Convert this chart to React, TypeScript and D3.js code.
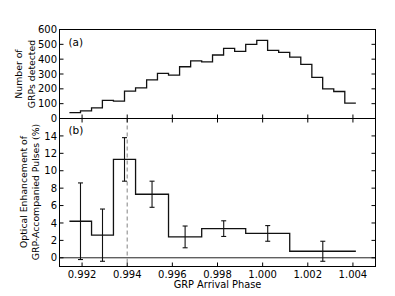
import React from "react";
import * as d3 from "d3";

// bin edges of the GRP histogram (phase)
const binEdges = [
  0.99144, 0.99193, 0.99242, 0.9929, 0.99339, 0.99388, 0.99437, 0.99486, 0.99534,
  0.99583, 0.99632, 0.99681, 0.9973, 0.99778, 0.99827, 0.99876, 0.99925, 0.99974,
  1.00022, 1.00071, 1.0012, 1.00169, 1.00218, 1.00266, 1.00315, 1.00364, 1.00413,
];
const grpCounts = [
  40, 51, 72, 122, 117, 185, 207, 261, 304, 293, 349, 389, 382, 428, 473, 453, 500,
  527, 459, 446, 414, 365, 277, 200, 182, 103,
];

// coarser bins used for the optical enhancement (indices into binEdges)
const enhEdgeIdx = [0, 2, 4, 6, 9, 12, 16, 20, 26];
const enhValues = [4.2, 2.6, 11.3, 7.3, 2.4, 3.35, 2.8, 0.75];
const enhErrors = [4.4, 3.0, 2.5, 1.5, 1.25, 0.9, 0.9, 1.15];

const xTicks = [0.992, 0.994, 0.996, 0.998, 1.0, 1.002, 1.004];
const topTicks = [0, 100, 200, 300, 400, 500, 600];
const botTicks = [0, 2, 4, 6, 8, 10, 12, 14];
const peakPhase = 0.994;

const W = 395;
const H = 296;
const left = 59.5;
const right = 375.5;
const top = 29.5;
const mid = 118.5;
const bottom = 266.5;
const font = "DejaVu Sans";
const tick = 4;
const tickFont = 10;
const labelFont = 9.3;

export default function App() {
  const x = d3.scaleLinear().domain([0.991, 1.005]).range([left, right]);
  const yTop = d3.scaleLinear().domain([0, 600]).range([mid, top]);
  const yBot = d3.scaleLinear().domain([-1, 16]).range([bottom, mid]);

  const topPts: [number, number][] = grpCounts.map((v, i) => [binEdges[i], v]);
  topPts.push([binEdges[binEdges.length - 1], grpCounts[grpCounts.length - 1]]);
  const topLine = d3
    .line<[number, number]>()
    .x((d) => x(d[0]))
    .y((d) => yTop(d[1]))
    .curve(d3.curveStepAfter);

  const enhEdges = enhEdgeIdx.map((i) => binEdges[i]);
  const botPts: [number, number][] = enhValues.map((v, i) => [enhEdges[i], v]);
  botPts.push([enhEdges[enhEdges.length - 1], enhValues[enhValues.length - 1]]);
  const botLine = d3
    .line<[number, number]>()
    .x((d) => x(d[0]))
    .y((d) => yBot(d[1]))
    .curve(d3.curveStepAfter);

  const fmt = d3.format(".3f");

  return (
    <div style={{ position: "fixed", left: 0, top: 0 }}>
      <svg width={W} height={H} style={{ display: "block", background: "#fff" }} fontFamily={font}>
        {/* top panel */}
        <path d={topLine(topPts) ?? ""} fill="none" stroke="#111" strokeWidth={1.3} />
        {topTicks.map((t) => (
          <g key={"tt" + t}>
            <line x1={left} x2={left + tick} y1={yTop(t)} y2={yTop(t)} stroke="#000" />
            <line x1={right} x2={right - tick} y1={yTop(t)} y2={yTop(t)} stroke="#000" />
            <text x={left - 2.5} y={yTop(t)} dy="0.36em" textAnchor="end" fontSize={tickFont}>
              {t}
            </text>
          </g>
        ))}
        {xTicks.map((t) => (
          <line key={"tx" + t} x1={x(t)} x2={x(t)} y1={mid} y2={mid - tick} stroke="#000" />
        ))}
        <text x={68.5} y={45.5} fontSize={10.5}>(a)</text>
        <text transform={`translate(19,74) rotate(-90)`} textAnchor="middle" dy="0.36em" fontSize={labelFont}>
          Number of
        </text>
        <text transform={`translate(31.5,74) rotate(-90)`} textAnchor="middle" dy="0.36em" fontSize={labelFont}>
          GRPs detected
        </text>

        {/* bottom panel */}
        <line x1={left} x2={right} y1={yBot(0)} y2={yBot(0)} stroke="#222" strokeWidth={1} />
        <line
          x1={x(peakPhase)}
          x2={x(peakPhase)}
          y1={mid}
          y2={bottom}
          stroke="#999"
          strokeWidth={1.2}
          strokeDasharray="4,3"
        />
        <path d={botLine(botPts) ?? ""} fill="none" stroke="#111" strokeWidth={1.3} />
        {enhValues.map((v, i) => {
          const cx = x((enhEdges[i] + enhEdges[i + 1]) / 2);
          const y1 = yBot(v + enhErrors[i]);
          const y2 = yBot(v - enhErrors[i]);
          return (
            <g key={"e" + i} stroke="#111" strokeWidth={1.1}>
              <line x1={cx} x2={cx} y1={y1} y2={y2} />
              <line x1={cx - 2.5} x2={cx + 2.5} y1={y1} y2={y1} />
              <line x1={cx - 2.5} x2={cx + 2.5} y1={y2} y2={y2} />
            </g>
          );
        })}
        {botTicks.map((t) => (
          <g key={"bt" + t}>
            <line x1={left} x2={left + tick} y1={yBot(t)} y2={yBot(t)} stroke="#000" />
            <line x1={right} x2={right - tick} y1={yBot(t)} y2={yBot(t)} stroke="#000" />
            <text x={left - 2.5} y={yBot(t)} dy="0.36em" textAnchor="end" fontSize={tickFont}>
              {t}
            </text>
          </g>
        ))}
        {xTicks.map((t) => (
          <g key={"bx" + t}>
            <line x1={x(t)} x2={x(t)} y1={mid} y2={mid + tick} stroke="#000" />
            <line x1={x(t)} x2={x(t)} y1={bottom} y2={bottom - tick} stroke="#000" />
            <text x={x(t)} y={277.8} textAnchor="middle" fontSize={tickFont}>
              {fmt(t)}
            </text>
          </g>
        ))}
        <text x={68.5} y={134} fontSize={10.5}>(b)</text>
        <text transform={`translate(24,192) rotate(-90)`} textAnchor="middle" dy="0.36em" fontSize={labelFont}>
          Optical Enhancement of
        </text>
        <text transform={`translate(35.7,192) rotate(-90)`} textAnchor="middle" dy="0.36em" fontSize={labelFont}>
          GRP-Accompanied Pulses (%)
        </text>
        <text x={(left + right) / 2} y={288} textAnchor="middle" fontSize={9.8}>
          GRP Arrival Phase
        </text>

        {/* frames */}
        <rect x={left} y={top} width={right - left} height={mid - top} fill="none" stroke="#000" strokeWidth={1} />
        <rect x={left} y={mid} width={right - left} height={bottom - mid} fill="none" stroke="#000" strokeWidth={1} />
      </svg>
    </div>
  );
}
